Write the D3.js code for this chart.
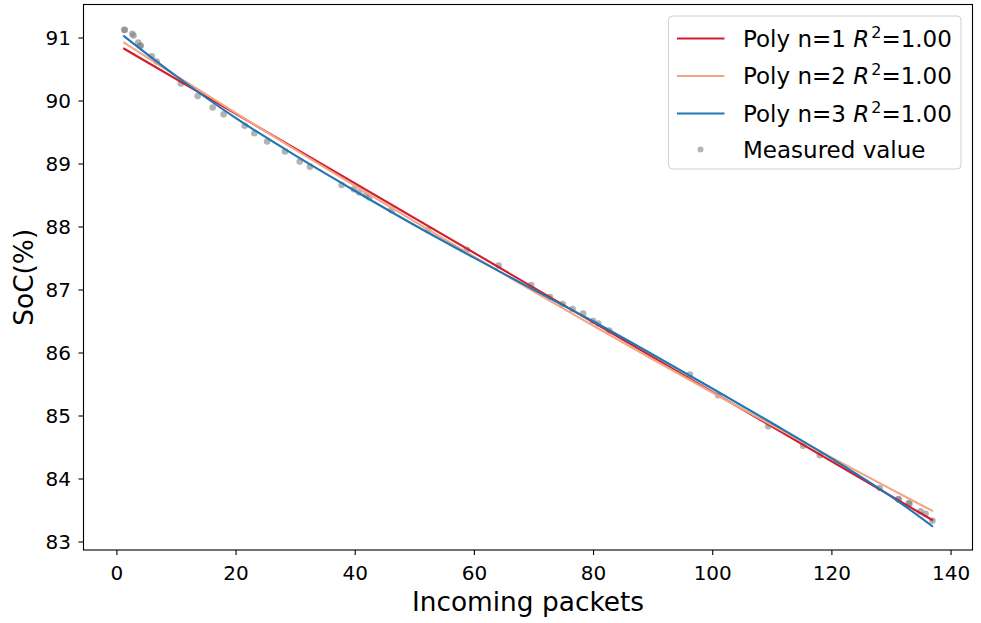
<!DOCTYPE html>
<html>
<head>
<meta charset="utf-8">
<script src="https://cdn.jsdelivr.net/npm/d3@7"></script>
<style>
  body { margin: 0; background: #fff; }
  svg { display: block; }
  text { font-family: "DejaVu Sans", sans-serif; fill: #000; }
</style>
</head>
<body>
<svg id="chart" width="981" height="623"></svg>
<script>
// Measured state of charge against number of incoming packets
const packets = [1.33, 1.40, 2.67, 2.87, 3.67, 4.01, 4.05, 5.92, 6.76, 10.84, 13.64, 16.16, 18.0,
  21.54, 23.15, 25.3, 28.3, 30.77, 32.48, 37.8, 39.87, 40.75, 41.88, 42.43, 46.2, 52.3, 58.8,
  64.14, 69.6, 72.75, 74.9, 76.56, 78.34, 80.0, 80.86, 82.7, 96.24, 101.0, 109.4, 115.25, 118.05,
  128.1, 131.2, 131.3, 133.0, 133.1, 134.95, 135.8, 136.96];
const soc = [91.122, 91.12, 91.06, 91.03, 90.92, 90.87, 90.87, 90.70, 90.62, 90.27, 90.07, 89.89, 89.78,
  89.60, 89.48, 89.35, 89.19, 89.03, 88.95, 88.66, 88.59, 88.54, 88.50, 88.46, 88.26, 87.94, 87.63,
  87.38, 87.07, 86.88, 86.77, 86.69, 86.62, 86.50, 86.46, 86.35, 85.65, 85.32, 84.83, 84.52, 84.37,
  83.85, 83.67, 83.67, 83.61, 83.60, 83.48, 83.44, 83.33];

// Fitted polynomial curves, sampled along the packet axis
const linearX = [1.16, 137.06];
const linearY = [90.83, 83.333];
const curveX = [1.16, 10, 20, 30, 40, 50, 60, 70, 80, 90, 100, 110, 120, 130, 137.06];
const quadY = [90.925, 90.396, 89.805, 89.222, 88.648, 88.081, 87.522, 86.971, 86.428, 85.893,
  85.365, 84.846, 84.335, 83.831, 83.481];
const cubicY = [91.03, 90.389, 89.724, 89.128, 88.568, 88.024, 87.505, 86.997, 86.496, 85.968,
  85.428, 84.881, 84.321, 83.717, 83.234];

const seriesNames = ["Poly n=1", "Poly n=2", "Poly n=3"];
const seriesR2 = ["1.00", "1.00", "1.00"];
const seriesColors = ["#d21b2d", "#f4a582", "#1f77b4"];
const pointLabel = "Measured value";
const xTicks = [0, 20, 40, 60, 80, 100, 120, 140];
const yTicks = [83, 84, 85, 86, 87, 88, 89, 90, 91];
const xTitle = "Incoming packets";
const yTitle = "SoC(%)";

const W = 981, H = 623;
const m = { left: 83.5, top: 4.5, right: 8.5, bottom: 73 };
const iw = W - m.left - m.right, ih = H - m.top - m.bottom;

const svg = d3.select("#chart");
const g = svg.append("g").attr("transform", `translate(${m.left},${m.top})`);

const x = d3.scaleLinear().domain([-5.52, 143.68]).range([0, iw]);
const y = d3.scaleLinear().domain([82.865, 91.524]).range([ih, 0]);

// measured points (drawn beneath the fit lines)
const pts = packets.map((p, i) => [p, soc[i]]);
g.append("g").selectAll("circle").data(pts).join("circle")
  .attr("cx", d => x(d[0])).attr("cy", d => y(d[1])).attr("r", 3.3)
  .attr("fill", "#808080").attr("fill-opacity", 0.6);

const line = d3.line().x(d => x(d[0])).y(d => y(d[1])).curve(d3.curveCatmullRom);
const fits = [
  linearX.map((v, i) => [v, linearY[i]]),
  curveX.map((v, i) => [v, quadY[i]]),
  curveX.map((v, i) => [v, cubicY[i]])
];
g.append("g").selectAll("path").data(fits).join("path")
  .attr("d", line).attr("fill", "none")
  .attr("stroke", (d, i) => seriesColors[i]).attr("stroke-width", 2.1);

// axes
const xAxis = g.append("g").attr("transform", `translate(0,${ih})`)
  .call(d3.axisBottom(x).tickValues(xTicks).tickSize(5).tickPadding(10.5).tickFormat(d3.format("d")));
const yAxis = g.append("g")
  .call(d3.axisLeft(y).tickValues(yTicks).tickSize(5).tickPadding(7.5).tickFormat(d3.format("d")));
[xAxis, yAxis].forEach(a => {
  a.select(".domain").remove();
  a.selectAll("line").attr("stroke", "#000").attr("stroke-width", 1.1);
  a.selectAll("text").attr("font-size", 20).attr("font-family", "DejaVu Sans");
});
yAxis.selectAll("text").attr("dy", "0.36em");

g.append("rect").attr("width", iw).attr("height", ih)
  .attr("fill", "none").attr("stroke", "#000").attr("stroke-width", 1.1);

// axis titles
svg.append("text").attr("x", m.left + iw / 2).attr("y", 611)
  .attr("text-anchor", "middle").attr("font-size", 26.4).text(xTitle);
svg.append("text").attr("transform", `translate(33,${m.top + ih / 2}) rotate(-90)`)
  .attr("text-anchor", "middle").attr("font-size", 26.4).text(yTitle);

// legend
const lg = svg.append("g").attr("transform", "translate(668.5,16)");
lg.append("rect").attr("width", 292.5).attr("height", 153).attr("rx", 4)
  .attr("fill", "#fff").attr("fill-opacity", 0.8).attr("stroke", "#d0d0d0").attr("stroke-width", 1);
const rowY = [22.5, 60, 97.5, 133.5];
seriesNames.forEach((name, i) => {
  lg.append("line").attr("x1", 8.5).attr("x2", 56).attr("y1", rowY[i]).attr("y2", rowY[i])
    .attr("stroke", seriesColors[i]).attr("stroke-width", 2.1);
  const t = lg.append("text").attr("x", 74.5).attr("y", rowY[i]).attr("dy", "0.36em").attr("font-size", 23);
  t.append("tspan").text(name + " ");
  t.append("tspan").attr("font-style", "italic").text("R");
  t.append("tspan").attr("font-size", 16).attr("dy", "-0.55em").attr("dx", 2).text("2");
  t.append("tspan").attr("dy", "0.38em").text("=" + seriesR2[i]);
});
lg.append("circle").attr("cx", 32).attr("cy", rowY[3]).attr("r", 3)
  .attr("fill", "#808080").attr("fill-opacity", 0.6);
lg.append("text").attr("x", 74.5).attr("y", rowY[3]).attr("dy", "0.36em").attr("font-size", 23).text(pointLabel);
</script>
</body>
</html>
